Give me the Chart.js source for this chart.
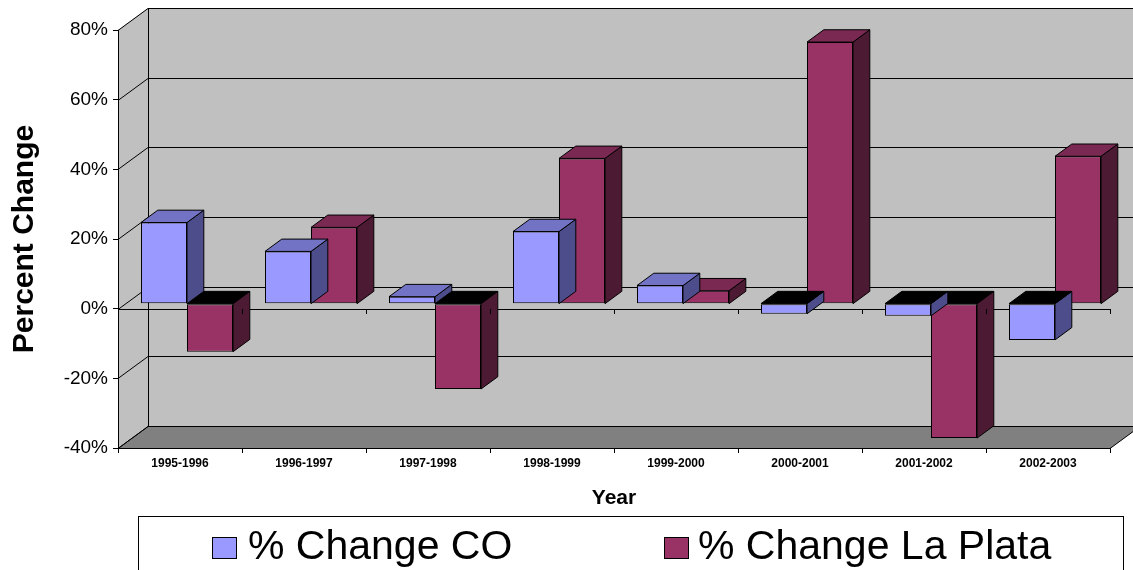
<!DOCTYPE html>
<html>
<head>
<meta charset="utf-8">
<title>Percent Change by Year</title>
<script src="https://cdn.jsdelivr.net/npm/chart.js@4.4.1/dist/chart.umd.min.js"></script>
<style>
  html, body { margin: 0; padding: 0; background: #ffffff; }
  #wrap { width: 1133px; height: 570px; position: relative; }
</style>
</head>
<body>
<div id="wrap"><canvas id="chart" width="1133" height="570"></canvas></div>
<script>
// ---- data ----
const categories = ['1995-1996', '1996-1997', '1997-1998', '1998-1999',
                    '1999-2000', '2000-2001', '2001-2002', '2002-2003'];
const changeCO      = [23.3, 15.0, 2.0, 20.7, 5.2, -2.9, -3.5, -10.4];
const changeLaPlata = [-13.8, 21.9, -24.5, 41.7, 3.7, 75.1, -38.6, 42.3];
const percentTicks  = [-40, -20, 0, 20, 40, 60, 80];
const seriesLabels  = ['% Change CO', '% Change La Plata'];

// ---- styling ----
const frontColors = ['#9999ff', '#993366'];
const topColors   = ['#7373c6', '#7a2952'];
const sideColors  = ['#4d4d8c', '#4d1a33'];
const FONT = '"Liberation Sans", Arial, Helvetica, sans-serif';

// depth of the plot box (back wall offset) and the slab the columns occupy
const WALL = { dx: 30, dy: -22 };
const BAR_NEAR = 0.23, BAR_FAR = 0.79;

function poly(ctx, pts, fill, stroke) {
  ctx.beginPath();
  ctx.moveTo(pts[0][0], pts[0][1]);
  for (let i = 1; i < pts.length; i++) ctx.lineTo(pts[i][0], pts[i][1]);
  ctx.closePath();
  if (fill) { ctx.fillStyle = fill; ctx.fill(); }
  if (stroke) { ctx.strokeStyle = stroke; ctx.lineWidth = 1; ctx.stroke(); }
}
function seg(ctx, x1, y1, x2, y2) {
  ctx.beginPath(); ctx.moveTo(x1, y1); ctx.lineTo(x2, y2); ctx.stroke();
}

// walls, floor and gridlines of the 3-D box
const boxPlugin = {
  id: 'box3d',
  beforeDraw(chart) {
    const { ctx, chartArea: a, scales: { y } } = chart;
    const { dx, dy } = WALL;
    const yTop = y.getPixelForValue(y.max), yBot = y.getPixelForValue(y.min);
    ctx.save();
    ctx.fillStyle = '#ffffff';
    ctx.fillRect(0, 0, chart.width, chart.height);
    // back wall
    ctx.fillStyle = '#c0c0c0';
    ctx.fillRect(a.left + dx, yTop + dy, a.right - a.left, yBot - yTop);
    // side wall
    poly(ctx, [[a.left, yTop], [a.left + dx, yTop + dy], [a.left + dx, yBot + dy], [a.left, yBot]], '#c0c0c0', null);
    // floor
    poly(ctx, [[a.left, yBot + 0.5], [a.right, yBot + 0.5], [a.right + dx, yBot + dy + 0.5], [a.left + dx, yBot + dy + 0.5]], '#808080', '#000000');
    ctx.strokeStyle = '#000000';
    ctx.lineWidth = 1;
    percentTicks.forEach(v => {
      const py = Math.round(y.getPixelForValue(v)) + 0.5;
      seg(ctx, a.left, py, a.left + dx, py + dy);
      seg(ctx, a.left + dx, py + dy, a.right + dx + 5, py + dy);
    });
    seg(ctx, a.left + dx + 0.5, yTop + dy, a.left + dx + 0.5, yBot + dy);
    // zero line at the front
    const y0 = Math.round(y.getPixelForValue(0)) + 0.5;
    seg(ctx, a.left, y0, a.right, y0);
    ctx.restore();
  },
  beforeDatasetDraw(chart, args) {
    const { ctx, scales: { y } } = chart;
    const idx = args.index;
    const ox = WALL.dx * BAR_NEAR, oy = WALL.dy * BAR_NEAR;
    const ddx = WALL.dx * (BAR_FAR - BAR_NEAR), ddy = WALL.dy * (BAR_FAR - BAR_NEAR);
    const y0 = y.getPixelForValue(0);
    ctx.save();
    ctx.translate(Math.round(ox), Math.round(oy));
    ctx.lineJoin = 'miter';
    args.meta.data.forEach((bar, i) => {
      const p = bar.getProps(['x', 'y', 'width'], true);
      const x1 = p.x - p.width / 2, x2 = p.x + p.width / 2;
      const value = chart.data.datasets[idx].data[i];
      const t = Math.min(p.y, y0), b = Math.max(p.y, y0);
      poly(ctx, [[x2, t], [x2 + ddx, t + ddy], [x2 + ddx, b + ddy], [x2, b]], sideColors[idx], '#000000');
      poly(ctx, [[x1, t], [x2, t], [x2 + ddx, t + ddy], [x1 + ddx, t + ddy]],
           value < 0 ? '#000000' : topColors[idx], '#000000');
    });
  },
  afterDatasetDraw(chart) {
    chart.ctx.restore();
  },
  afterDatasetsDraw(chart) {
    const { ctx, chartArea: a, scales: { y } } = chart;
    const y0 = Math.round(y.getPixelForValue(0));
    const step = (a.right - a.left) / categories.length;
    ctx.save();
    ctx.strokeStyle = '#000000';
    ctx.lineWidth = 1;
    for (let i = 0; i <= categories.length; i++) {
      const px = Math.round(a.left + i * step) + 0.5;
      seg(ctx, px, y0, px, y0 + 5);
    }
    ctx.restore();
  },
  afterDraw(chart) {
    // boxed legend under the axis title
    const ctx = chart.ctx;
    ctx.save();
    ctx.fillStyle = '#ffffff';
    ctx.fillRect(138.5, 516.5, 985, 80);
    ctx.strokeStyle = '#000000';
    ctx.lineWidth = 1;
    ctx.strokeRect(138.5, 516.5, 985, 80);
    const items = [{ sx: 212, tx: 248 }, { sx: 664, tx: 698 }];
    ctx.font = '41px ' + FONT;
    ctx.textBaseline = 'alphabetic';
    chart.data.datasets.forEach((ds, i) => {
      ctx.fillStyle = ds.backgroundColor;
      ctx.fillRect(items[i].sx + 0.5, 537.5, 24, 21);
      ctx.strokeRect(items[i].sx + 0.5, 537.5, 24, 21);
      ctx.fillStyle = '#000000';
      ctx.fillText(ds.label, items[i].tx, 559);
    });
    ctx.restore();
  }
};

new Chart(document.getElementById('chart'), {
  type: 'bar',
  data: {
    labels: categories,
    datasets: [
      { label: seriesLabels[0], data: changeCO, backgroundColor: frontColors[0],
        borderColor: '#000000', borderWidth: 1, borderSkipped: false },
      { label: seriesLabels[1], data: changeLaPlata, backgroundColor: frontColors[1],
        borderColor: '#000000', borderWidth: 1, borderSkipped: false }
    ]
  },
  options: {
    responsive: false,
    devicePixelRatio: 1,
    animation: false,
    layout: { padding: { top: 30, right: 23, bottom: 59, left: 0 } },
    datasets: { bar: { categoryPercentage: 0.742, barPercentage: 1.0 } },
    plugins: { legend: { display: false }, tooltip: { enabled: false } },
    scales: {
      x: {
        grid: { display: true, drawOnChartArea: false, drawTicks: true, tickLength: 5, color: '#000000', offset: true },
        border: { display: true, color: '#000000', width: 1 },
        ticks: { color: '#000000', font: { family: FONT, size: 12, weight: 'bold' }, padding: 3, maxRotation: 0, autoSkip: false },
        title: { display: true, text: 'Year', color: '#000000', font: { family: FONT, size: 21, weight: 'bold' }, padding: { top: 0, bottom: 0 } },
        afterFit(scale) { scale.height = 63; }
      },
      y: {
        min: -40, max: 80,
        afterBuildTicks(scale) { scale.ticks = percentTicks.map(v => ({ value: v })); },
        grid: { display: true, drawOnChartArea: false, drawTicks: true, tickLength: 5, color: '#000000' },
        border: { display: true, color: '#000000', width: 1 },
        ticks: { color: '#000000', font: { family: FONT, size: 19 }, padding: 5, callback: v => v + '%' },
        title: { display: true, text: 'Percent Change', color: '#000000', font: { family: FONT, size: 30, weight: 'bold' }, padding: { top: 7, bottom: 0 } },
        afterFit(scale) { scale.width = 118; }
      }
    }
  },
  plugins: [boxPlugin]
});
</script>
</body>
</html>
